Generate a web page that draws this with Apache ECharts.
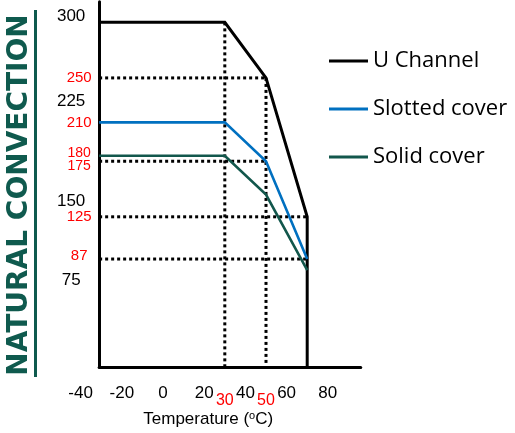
<!DOCTYPE html>
<html>
<head>
<meta charset="utf-8">
<script src="https://cdn.jsdelivr.net/npm/echarts@6/dist/echarts.min.js"></script>
<style>html,body{margin:0;padding:0;background:#fff}#c{width:515px;height:433px}</style>
</head>
<body>
<div id="c"></div>
<script>
// ---- data ----
const XMIN = -31, XMAX = 96, YMIN = -10, YMAX = 318.6;
const temps = [XMIN, 30, 50, 70];
const uChannel = [300, 300, 250, 125];
const slotted = [210, 210, 175, 87];
const solid = [180, 180, 145, 77];
const xTicks = [-40, -20, 0, 20, 40, 60, 80];
const xMarks = [30, 50];
const yTicksBlack = [75, 150, 225, 300];
const yTicksRed = [87, 125, 175, 180, 210, 250];
const hGuides = [[250, 50], [175, 50], [125, 70], [87, 70]]; // [value, until temp]
const vGuides = [[30, 300], [50, 250]];                        // [temp, from value]
const seriesNames = ['U Channel', 'Slotted cover', 'Solid cover'];
const colors = ['#000000', '#0070c0', '#12574c'];

const PXU = 2.06, X0 = 163;          // px per degree, px of 0 degC
const YTOP = 1.7, YH = 365.1;

const num = 'Liberation Sans, Arial, sans-serif';
const pairs = (xs, ys) => xs.map((x, i) => [x, ys[i]]);

const series = [];
hGuides.forEach(g => series.push({
  type: 'line', xAxisIndex: 0, yAxisIndex: 0, data: [[XMIN, g[0]], [g[1], g[0]]],
  showSymbol: false, symbol: 'none', silent: true, z: 1,
  lineStyle: {color: '#000', width: 3, type: [3, 3], cap: 'butt'}
}));
vGuides.forEach(g => series.push({
  type: 'line', xAxisIndex: 0, yAxisIndex: 0, data: [[g[0], g[1]], [g[0], YMIN]],
  showSymbol: false, symbol: 'none', silent: true, z: 1,
  lineStyle: {color: '#000', width: 3, type: [3, 3], cap: 'butt'}
}));
const uData = pairs(temps, uChannel).concat([[temps[temps.length - 1], YMIN]]);
[uData, pairs(temps, slotted), pairs(temps, solid)].forEach((d, i) => series.push({
  name: seriesNames[i], type: 'line', xAxisIndex: 0, yAxisIndex: 0, data: d,
  showSymbol: false, symbol: 'none', z: 3, color: colors[i],
  lineStyle: {color: colors[i], width: i === 0 ? 3 : 2.6, join: 'miter'}
}));

// label nudges (px) so the black tick labels sit where the reference draws them
const blackNudge = {300: -6, 225: -4, 150: 12, 75: 8};
const pad = d => d < 0 ? [0, 0, -2 * d, 0] : [2 * d, 0, 0, 0];
const blackRich = {};
yTicksBlack.forEach(v => {
  blackRich['k' + v] = {fontSize: 17, color: '#000', fontFamily: num, padding: pad(blackNudge[v] || 0)};
});

const labelAxis = (values, margin, size, color) => ({
  type: 'value', gridIndex: 1, min: -40, max: 80, position: 'bottom', offset: 0,
  axisLine: {show: false, onZero: false}, axisTick: {show: false}, splitLine: {show: false},
  axisLabel: {customValues: values, margin: margin, fontSize: size, color: color, fontFamily: num}
});

const chart = echarts.init(document.getElementById('c'), null, {renderer: 'canvas'});
chart.setOption({
  animation: false,
  backgroundColor: '#fff',
  grid: [
    {left: X0 + PXU * XMIN, width: PXU * (XMAX - XMIN), top: YTOP, height: YH},
    {left: X0 + PXU * -40, width: PXU * 120, top: YTOP, height: YH}
  ],
  xAxis: [
    {type: 'value', gridIndex: 0, min: XMIN, max: XMAX,
     axisLine: {show: true, onZero: false, lineStyle: {color: '#000', width: 3}},
     axisTick: {show: false}, axisLabel: {show: false}, splitLine: {show: false}},
    Object.assign(labelAxis(xTicks, 18, 17, '#000'), {
      name: 'Temperature ({s|o}C)', nameLocation: 'middle', nameGap: 44, nameMoveOverlap: false,
      nameTextStyle: {fontSize: 17, color: '#000', fontFamily: num, padding: [0, 0, 0, 8],
        rich: {s: {fontSize: 11, fontFamily: num, color: '#000', padding: [0, 0, 7, 0]}}}
    }),
    labelAxis(xMarks, 26, 16, '#ff0000')
  ],
  yAxis: [
    {type: 'value', gridIndex: 0, min: YMIN, max: YMAX,
     axisLine: {show: true, onZero: false, lineStyle: {color: '#000', width: 3}},
     axisTick: {show: false}, splitLine: {show: false},
     axisLabel: {customValues: yTicksBlack, margin: 28, align: 'center',
       fontSize: 17, color: '#000', fontFamily: num,
       formatter: v => '{k' + v + '|' + v + '}', rich: blackRich}},
    {type: 'value', gridIndex: 0, min: YMIN, max: YMAX, position: 'left',
     axisLine: {show: false, onZero: false}, axisTick: {show: false}, splitLine: {show: false},
     axisLabel: {customValues: yTicksRed, margin: 20, align: 'center', fontFamily: num,
       formatter: v => v === 180 ? '{u|180}' : v === 175 ? '{d|175}' : v === 87 ? '{e|87}' : '{n|' + v + '}',
       rich: {
         n: {fontSize: 15, color: '#ff0000', fontFamily: num},
         e: {fontSize: 15, color: '#ff0000', fontFamily: num, padding: [0, 0, 6, 0]},
         u: {fontSize: 14, color: '#ff0000', fontFamily: '"Liberation Sans Narrow", Liberation Sans', padding: [0, 0, 6, 0]},
         d: {fontSize: 14, color: '#ff0000', fontFamily: '"Liberation Sans Narrow", Liberation Sans', padding: [9, 0, 0, 0]}
       }}},
    {type: 'value', gridIndex: 1, min: YMIN, max: YMAX, show: false}
  ],
  legend: {
    data: seriesNames, orient: 'vertical', left: 324, top: 45,
    icon: 'rect', itemWidth: 39, itemHeight: 3, itemGap: 26,
    textStyle: {fontFamily: 'Open Sans', fontSize: 22, color: '#000', padding: [0, 0, 0, 0]}
  },
  graphic: [
    {type: 'text', x: 20, y: 195, rotation: Math.PI / 2,
     style: {text: 'NATURAL CONVECTION', font: 'bold 28px "DejaVu Sans"', fill: '#0f5a4e',
       align: 'center', verticalAlign: 'middle'}},
    {type: 'line', shape: {x1: 35.5, y1: 10, x2: 35.5, y2: 377},
     style: {stroke: '#0f5a4e', lineWidth: 3}}
  ],
  series: series
});
</script>
</body>
</html>
